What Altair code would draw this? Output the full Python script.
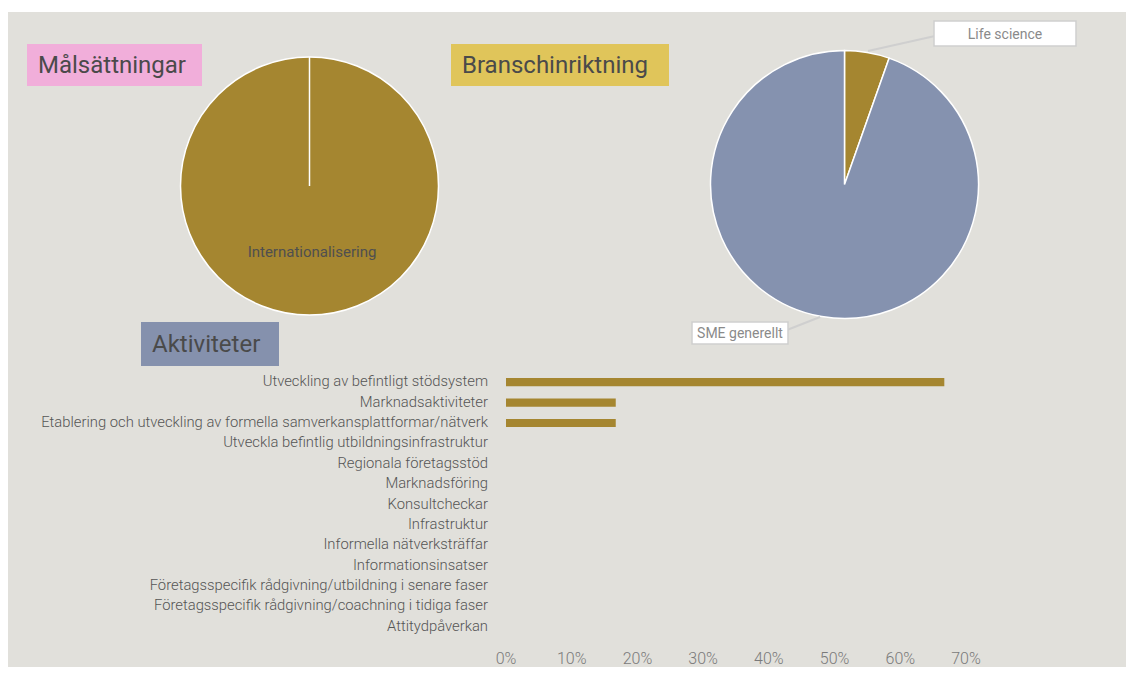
import altair as alt
import pandas as pd

# ---------------- data ----------------
categories = [
    "Utveckling av befintligt stödsystem",
    "Marknadsaktiviteter",
    "Etablering och utveckling av formella samverkansplattformar/nätverk",
    "Utveckla befintlig utbildningsinfrastruktur",
    "Regionala företagsstöd",
    "Marknadsföring",
    "Konsultcheckar",
    "Infrastruktur",
    "Informella nätverksträffar",
    "Informationsinsatser",
    "Företagsspecifik rådgivning/utbildning i senare faser",
    "Företagsspecifik rådgivning/coachning i tidiga faser",
    "Attitydpåverkan",
]
shares = [66.7, 16.7, 16.7, 0, 0, 0, 0, 0, 0, 0, 0, 0, 0]
tick_values = [0, 10, 20, 30, 40, 50, 60, 70]

goal_labels = ["Internationalisering"]
goal_values = [100]

sector_labels = ["Life science", "SME generellt"]
sector_values = [5.4, 94.6]

titles = ["Målsättningar", "Branschinriktning", "Aktiviteter"]

# ---------------- style ----------------
W, H = 1118, 659
BG = "#E1E0DB"
GOLD = "#A58630"
BLUE = "#8592AF"
FONT = "Roboto"

xscale = alt.Scale(domain=[0, 70], range=[498, 958], nice=False, zero=True)
yscale = alt.Scale(domain=categories, range=[364, 629], paddingInner=0.6, paddingOuter=0.3)

one = pd.DataFrame({"k": [0]})

panel = alt.Chart(one).mark_rect(color=BG).encode(
    x=alt.value(-1), x2=alt.value(W), y=alt.value(4), y2=alt.value(H)
)

def title_box(text, x0, x1, y0, y1, fill):
    df = pd.DataFrame({"t": [text]})
    box = alt.Chart(df).mark_rect(color=fill).encode(
        x=alt.value(x0), x2=alt.value(x1), y=alt.value(y0), y2=alt.value(y1)
    )
    txt = alt.Chart(df).mark_text(
        align="left", baseline="middle", font=FONT, fontSize=24, color="#4a4a4a"
    ).encode(x=alt.value(x0 + 11), y=alt.value((y0 + y1) / 2 + 1), text="t:N")
    return [box, txt]

tb1 = title_box(titles[0], 19, 194, 36, 78, "#F1AEDA")
tb2 = title_box(titles[1], 443, 661, 36, 78, "#E0C55A")
tb3 = title_box(titles[2], 133, 271, 314, 358, "#8591AD")

# pies
goal_df = pd.DataFrame({"label": goal_labels, "value": goal_values})
pie1 = alt.Chart(goal_df).mark_arc(
    outerRadius=129, stroke="white", strokeWidth=1.5, color=GOLD
).encode(theta=alt.Theta("value:Q", stack=True), x=alt.value(301.5), y=alt.value(178))
pie1_seam = alt.Chart(goal_df).mark_rule(color="white", strokeWidth=1.5).encode(
    x=alt.value(301.5), y=alt.value(49), y2=alt.value(178)
)
pie1_lbl = alt.Chart(goal_df).mark_text(
    font=FONT, fontSize=15, color="#4f4f4f", baseline="middle"
).encode(text="label:N", x=alt.value(304), y=alt.value(244))

sector_df = pd.DataFrame({"label": sector_labels, "value": sector_values, "ord": list(range(len(sector_labels)))})
pie2 = alt.Chart(sector_df).mark_arc(
    outerRadius=134, stroke="white", strokeWidth=1.5
).encode(
    theta=alt.Theta("value:Q", stack=True),
    order=alt.Order("ord:Q"),
    color=alt.Color("label:N", scale=alt.Scale(domain=sector_labels, range=[GOLD, BLUE]), legend=None),
    x=alt.value(836.5), y=alt.value(176.5),
)

def callout(text, bx0, bx1, by0, by1, lx0, ly0, lx1, ly1):
    df = pd.DataFrame({"t": [text]})
    line = alt.Chart(df).mark_rule(color="#cfcfcf", strokeWidth=2).encode(
        x=alt.value(lx0), y=alt.value(ly0), x2=alt.value(lx1), y2=alt.value(ly1)
    )
    box = alt.Chart(df).mark_rect(fill="white", stroke="#cfcfcf", strokeWidth=1.5).encode(
        x=alt.value(bx0), x2=alt.value(bx1), y=alt.value(by0), y2=alt.value(by1)
    )
    txt = alt.Chart(df).mark_text(
        font=FONT, fontSize=14, color="#8a8a8a", baseline="middle"
    ).encode(text="t:N", x=alt.value((bx0 + bx1) / 2), y=alt.value((by0 + by1) / 2 + 1))
    return [line, box, txt]

c1 = callout(sector_labels[0], 926, 1068, 13, 38, 860, 43, 927, 28)
c2 = callout(sector_labels[1], 684, 780, 314, 336, 812, 309, 779, 322)

# bars
bar_df = pd.DataFrame({"cat": categories, "share": shares})
bars = alt.Chart(bar_df).mark_bar(color=GOLD).encode(
    x=alt.X("share:Q", scale=xscale, axis=None),
    y=alt.Y("cat:N", scale=yscale, axis=None, sort=categories),
)
cat_lbl = alt.Chart(bar_df).mark_text(
    align="right", baseline="middle", font=FONT, fontSize=14.8, fontWeight=300, color="#555555"
).encode(
    y=alt.Y("cat:N", scale=yscale, axis=None, sort=categories),
    x=alt.value(480),
    text="cat:N",
)
tick_df = pd.DataFrame({"v": tick_values, "lbl": [f"{v}%" for v in tick_values]})
ticks = alt.Chart(tick_df).mark_text(
    baseline="middle", font=FONT, fontSize=16, fontWeight=300, color="#7a7a7a"
).encode(
    x=alt.X("v:Q", scale=xscale, axis=None),
    y=alt.value(651),
    text="lbl:N",
)

layers = [panel] + tb1 + tb2 + tb3 + [pie1, pie1_seam, pie1_lbl, pie2] + c1 + c2 + [bars, cat_lbl, ticks]

chart = alt.layer(*layers).resolve_scale(
    theta="independent", color="independent"
).properties(
    width=W, height=H, autosize=alt.AutoSizeParams(type="none"), padding=0, background="white"
).configure_view(stroke=None)

chart.save("out.html", embed_options={"renderer": "svg", "actions": False})
